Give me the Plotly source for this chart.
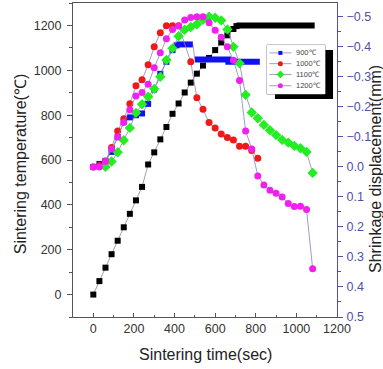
import plotly.graph_objects as go

# ---------------- data ----------------
black_time = [0, 30, 60, 90, 120, 150, 180, 210, 240, 270, 300, 330, 360, 390,
              420, 450, 480, 510, 540, 570, 600, 630, 660, 690, 705]
black_temp = [0, 60, 120, 180, 240, 300, 360, 420, 480, 580, 634, 692, 747, 806,
              852, 901, 945, 985, 1021, 1055, 1090, 1124, 1156, 1184, 1197]
hold_time = [705, 1090]
hold_temp = [1200, 1200]

blue_time = [0, 30, 60, 90, 120, 150, 180, 210, 240, 270, 300, 330, 360, 390, 410]
blue_disp = [0.0, -0.01, -0.02, -0.05, -0.10, -0.15, -0.165, -0.172, -0.178, -0.21,
             -0.258, -0.31, -0.35, -0.389, -0.405]
blue_hold_time = [410, 490, None, 500, 665, 665, 820]
blue_hold_disp = [-0.408, -0.408, None, -0.358, -0.358, -0.35, -0.35]
blue_drop_time = [490, 500]
blue_drop_disp = [-0.408, -0.358]

red_time = [0, 30, 60, 90, 120, 150, 180, 210, 240, 270, 300, 330, 360, 390, 420,
            480, 510, 540, 570, 600, 630, 660, 690, 720, 750, 780, 810]
red_disp = [0.0, -0.005, -0.02, -0.065, -0.12, -0.16, -0.21, -0.27, -0.29, -0.34,
            -0.40, -0.447, -0.47, -0.47, -0.47,
            -0.35, -0.23, -0.192, -0.148, -0.13, -0.11, -0.098, -0.09, -0.069,
            -0.069, -0.055, -0.029]

green_time = [60, 90, 120, 150, 180, 210, 240, 270, 300, 330, 360, 390, 420, 450,
              480, 510, 540, 570, 600, 630, 660, 690, 720, 750, 780, 810, 840, 870,
              900, 930, 960, 990, 1020, 1050, 1080]
green_disp = [0.0, -0.018, -0.049, -0.089, -0.13, -0.18, -0.209, -0.234, -0.26,
              -0.30, -0.356, -0.395, -0.435, -0.457, -0.466, -0.475, -0.49, -0.5,
              -0.497, -0.488, -0.458, -0.40, -0.345, -0.24, -0.181, -0.162, -0.14,
              -0.122, -0.106, -0.09, -0.081, -0.07, -0.062, -0.05, 0.02]

mag_time = [0, 30, 60, 90, 120, 150, 180, 210, 240, 270, 300, 330, 360, 390, 420,
            450, 480, 510, 540, 570, 600, 630, 660, 690, 720, 750, 780, 810, 840,
            870, 900, 930, 960, 990, 1020, 1050, 1080]
mag_disp = [0.0, 0.0, -0.018, -0.06, -0.10, -0.148, -0.19, -0.236, -0.248, -0.275,
            -0.33, -0.38, -0.427, -0.458, -0.469, -0.489, -0.498, -0.5, -0.5, -0.48,
            -0.455, -0.432, -0.40, -0.355, -0.288, -0.12, -0.06, 0.03, 0.06, 0.078,
            0.088, 0.10, 0.122, 0.132, 0.131, 0.142, 0.339]

legend_labels = ["900\u2103", "1000\u2103", "1100\u2103", "1200\u2103"]

x_ticks = [0, 200, 400, 600, 800, 1000, 1200]
y_ticks = [0, 200, 400, 600, 800, 1000, 1200]
y2_ticks = [-0.5, -0.4, -0.3, -0.2, -0.1, 0.0, 0.1, 0.2, 0.3, 0.4, 0.5]

# ---------------- styles ----------------
FONT = "Liberation Sans, Arial, sans-serif"
CONN = "#8484b8"
BLUE, RED, GREEN, MAG = "#1010f0", "#f01818", "#22ee22", "#f020f0"
AX2 = "#5050a8"

series = [
    (blue_time, blue_disp, BLUE, "square", 6),
    (red_time, red_disp, RED, "circle", 7),
    (green_time, green_disp, GREEN, "diamond", 8),
    (mag_time, mag_disp, MAG, "circle", 7),
]

fig = go.Figure()

fig.add_trace(go.Scatter(x=black_time, y=black_temp, mode="lines+markers",
                         line=dict(color="#888888", width=0.8),
                         marker=dict(symbol="square", size=6, color="black"),
                         showlegend=False))
fig.add_trace(go.Scatter(x=hold_time, y=hold_temp, mode="lines",
                         line=dict(color="black", width=6), showlegend=False))

fig.add_trace(go.Scatter(x=blue_drop_time, y=blue_drop_disp, yaxis="y2", mode="lines",
                         line=dict(color=CONN, width=0.8), showlegend=False))
fig.add_trace(go.Scatter(x=blue_hold_time, y=blue_hold_disp, yaxis="y2", mode="lines",
                         line=dict(color=BLUE, width=6), connectgaps=False,
                         showlegend=False))

for t, d, c, sym, sz in series:
    fig.add_trace(go.Scatter(x=t, y=d, yaxis="y2", mode="lines+markers",
                             line=dict(color=CONN, width=0.8),
                             marker=dict(symbol=sym, size=sz, color=c),
                             showlegend=False))

# ---------------- custom legend ----------------
L_X0, L_X1, L_Y0, L_Y1 = 0.735, 0.955, 0.71, 0.866
SH_DX, SH_DY = 0.03, 0.016
rows = [0.84, 0.62, 0.40, 0.17]
key_x = [0.04, 0.23, 0.42]
for (t, d, c, sym, sz), ry, lab in zip(series, rows, legend_labels):
    fig.add_trace(go.Scatter(x=key_x, y=[ry] * 3, xaxis="x3", yaxis="y3",
                             mode="lines", line=dict(color=CONN, width=0.8),
                             showlegend=False, hoverinfo="skip"))
    fig.add_trace(go.Scatter(x=[key_x[1]], y=[ry], xaxis="x3", yaxis="y3",
                             mode="markers",
                             marker=dict(symbol=sym, size=sz - 2, color=c),
                             showlegend=False, hoverinfo="skip"))
    fig.add_annotation(x=0.47, y=ry, xref="x3", yref="y3", text=lab,
                       showarrow=False, xanchor="left", yanchor="middle",
                       font=dict(family=FONT, size=7.5, color="#444444"))

fig.add_shape(type="rect", xref="paper", yref="paper",
              x0=L_X0 + SH_DX, x1=L_X1 + SH_DX, y0=L_Y0 - SH_DY, y1=L_Y1 - SH_DY,
              fillcolor="black", line=dict(width=0), layer="below")
fig.add_shape(type="rect", xref="paper", yref="paper",
              x0=L_X0, x1=L_X1, y0=L_Y0, y1=L_Y1,
              fillcolor="white", line=dict(color="#666666", width=0.8), layer="below")

# ---------------- titles ----------------
fig.add_annotation(x=0.5, y=-0.118, xref="paper", yref="paper",
                   text="Sintering time(sec)", showarrow=False,
                   xanchor="center", yanchor="middle",
                   font=dict(family=FONT, size=16, color="#222222"))
fig.add_annotation(x=-0.2, y=0.487, xref="paper", yref="paper",
                   text="Sintering temperature(\u2103)", showarrow=False,
                   textangle=-90, xanchor="center", yanchor="middle",
                   font=dict(family=FONT, size=16, color="#222222"))
fig.add_annotation(x=1.146, y=0.47, xref="paper", yref="paper",
                   text="Shrinkage displacement(mm)", showarrow=False,
                   textangle=-90, xanchor="center", yanchor="middle",
                   font=dict(family=FONT, size=16, color="#222222"))

tickfont = dict(family=FONT, size=12.5, color="#333333")

fig.update_layout(
    width=383, height=369, autosize=False,
    margin=dict(l=73, r=46, t=3, b=52, pad=0),
    paper_bgcolor="white", plot_bgcolor="white",
    showlegend=False,
    xaxis=dict(range=[-100, 1200], tickmode="array", tickvals=x_ticks,
               ticks="inside", ticklen=4, tickcolor="#555555",
               minor=dict(ticks="inside", ticklen=2, dtick=100, tick0=0,
                          tickcolor="#555555"),
               showline=True, linecolor="#555555", linewidth=1, mirror=True,
               showgrid=False, zeroline=False, tickfont=tickfont),
    yaxis=dict(range=[-100, 1300], tickmode="array", tickvals=y_ticks,
               ticks="outside", ticklen=5, tickcolor="#555555",
               minor=dict(ticks="outside", ticklen=3, dtick=100, tick0=0,
                          tickcolor="#555555"),
               showline=True, linecolor="#555555", linewidth=1,
               showgrid=False, zeroline=False, tickfont=tickfont,
               ticklabelstandoff=3),
    yaxis2=dict(range=[0.5, -0.546], overlaying="y", side="right",
                tickmode="array", tickvals=y2_ticks, tickformat=".1f",
                ticks="outside", ticklen=5, tickcolor=AX2,
                minor=dict(ticks="outside", ticklen=3, dtick=0.05, tick0=0,
                           tickcolor=AX2),
                showline=True, linecolor=AX2, linewidth=1,
                showgrid=False, zeroline=False,
                tickfont=dict(family=FONT, size=12.5, color=AX2),
                ticklabelstandoff=1),
    xaxis3=dict(domain=[L_X0, L_X1], range=[0, 1], anchor="y3", visible=False,
                fixedrange=True),
    yaxis3=dict(domain=[L_Y0, L_Y1], range=[0, 1], anchor="x3", visible=False,
                fixedrange=True),
)

fig.write_html("out.html")
